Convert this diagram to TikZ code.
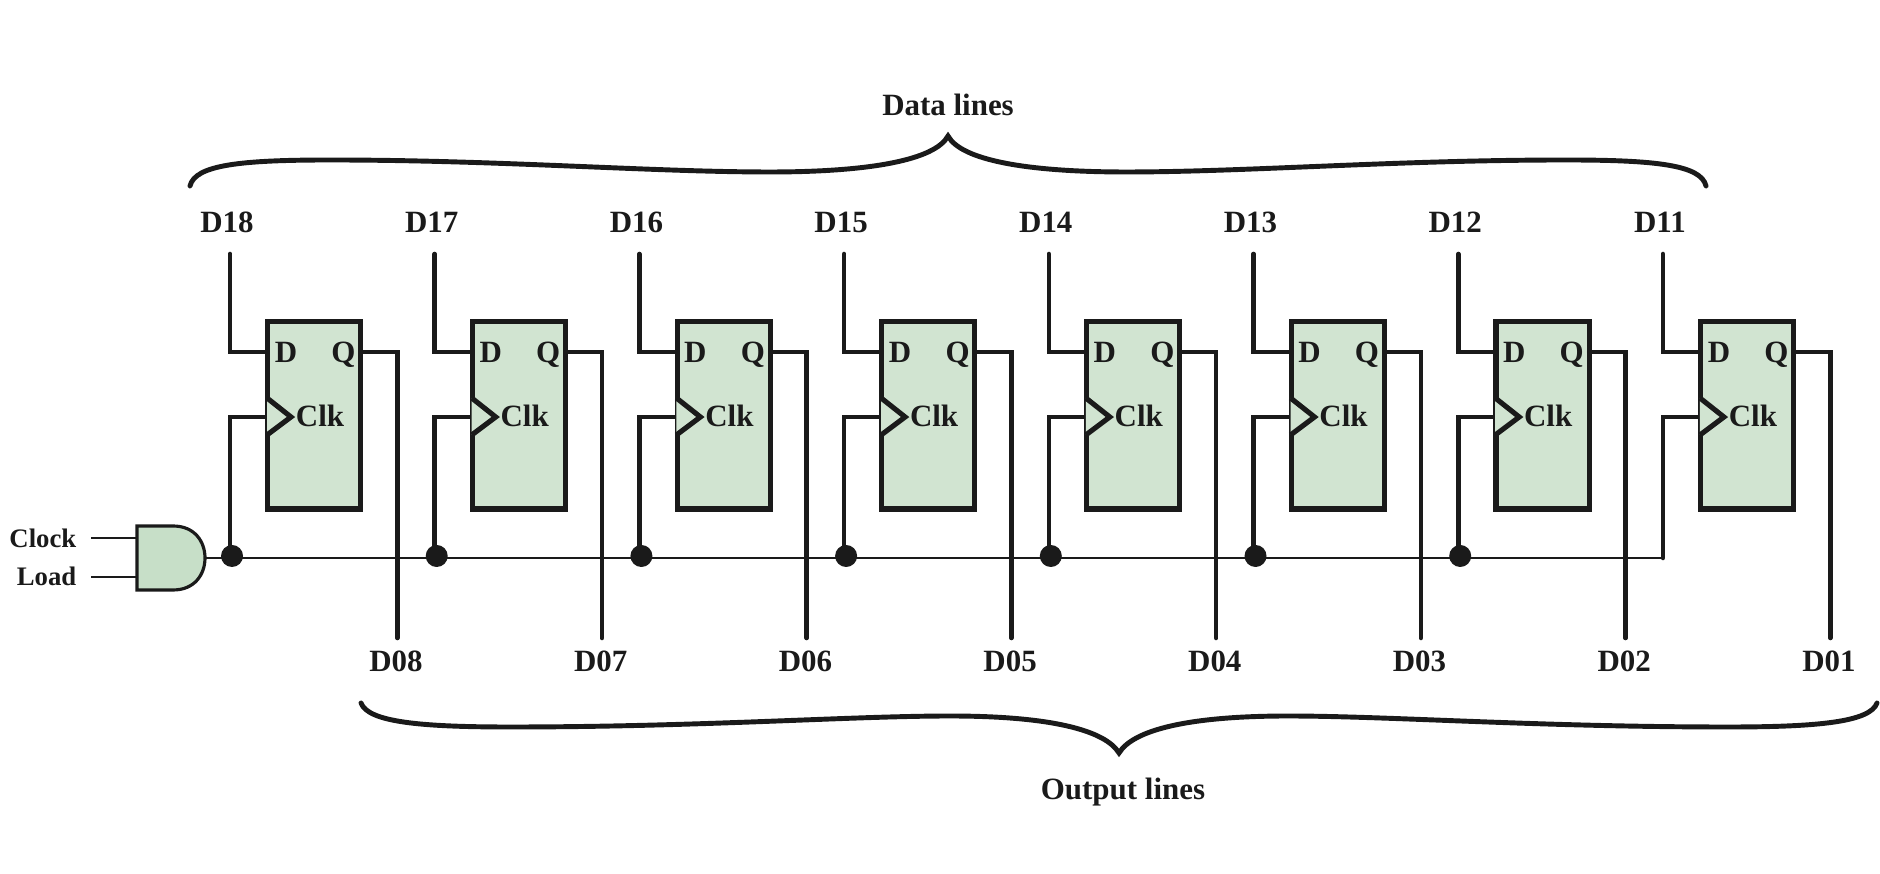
\documentclass[tikz,border=0pt]{standalone}
\usepackage{fontspec}
\setmainfont{Liberation Serif}
\definecolor{ink}{HTML}{1A1A1A}
\definecolor{ffgreen}{HTML}{D1E4D1}
\definecolor{gategreen}{HTML}{C7DFC8}
\tikzset{
  ffbox/.style={draw=ink,line width=1.45pt,fill=ffgreen,minimum width=0.93cm,minimum height=1.87cm,inner sep=0pt,outer sep=0pt},
  lbl/.style={anchor=base,inner sep=0pt,text=ink,font=\fontsize{8.8}{10}\selectfont\bfseries},
  smalllbl/.style={anchor=base east,inner sep=0pt,text=ink,font=\fontsize{7.6}{9}\selectfont\bfseries},
  wire/.style={draw=ink,line width=1.3pt,line cap=round},
  bus/.style={draw=ink,line width=0.75pt},
  brace/.style={draw=ink,line width=1.4pt,line cap=round},
  tapdot/.style={circle,fill=ink,minimum size=0.22cm,inner sep=0pt},
}
\begin{document}
\begin{tikzpicture}[x=0.01cm,y=-0.01cm]
\useasboundingbox (0,0) rectangle (1880,874);

% gate
\coordinate (clockin) at (91,538);
\coordinate (loadin) at (91,577);
\coordinate (clockpin) at (137,538);
\coordinate (loadpin) at (137,577);
\coordinate (gateout) at (205,558);
\draw[bus,line width=0.9pt,fill=gategreen] (137,526) -- (173,526) .. controls (195,526) and (205,542) .. (gateout) .. controls (205,574) and (195,590) .. (173,590) -- (137,590) -- cycle;
\draw[bus,line width=0.8pt] (clockin) -- (clockpin);
\draw[bus,line width=0.8pt] (loadin) -- (loadpin);
\node[smalllbl] (clocklbl) at (77,547.5) {Clock};
\node[smalllbl] (loadlbl) at (77,586) {Load};

% bus first, the stages go over it
\coordinate (busend) at (1662,558);
\draw[bus] (gateout) -- (busend);

\foreach \n [evaluate=\n as \x using 204.7*(8-\n)] in {1,...,8} {
  \node[ffbox] (ff\n) at (314.3+\x,415.5) {};
  \coordinate (din\n) at (230+\x,254);
  \coordinate (dpin\n) at (267+\x,352);
  \coordinate (qpin\n) at (361+\x,352);
  \coordinate (qend\n) at (397.3+\x,638);
  \coordinate (tap\n) at (230+\x,558);
  \coordinate (clkpin\n) at (267+\x,417);
  \draw[wire] (din\n) |- (dpin\n);
  \draw[wire] (qpin\n) -| (qend\n);
  \draw[wire] (tap\n) |- (clkpin\n);
  \draw[wire,line width=1.45pt,fill=ffgreen,line cap=butt] (267+\x,398) -- (291+\x,417) -- (267+\x,435);
  \node[lbl] (dlbl\n) at (286+\x,362.5) {D};
  \node[lbl] (qlbl\n) at (343.5+\x,362.5) {Q};
  \node[lbl] (clklbl\n) at (320+\x,426.5) {Clk};
  \node[lbl] (dtop\n) at (227+\x,232.5) {D1\n};
  \node[lbl] (dbot\n) at (396+\x,672) {D0\n};
}

% junctions, none on the last stage
\foreach \n in {2,...,8}
  \node[tapdot] (dot\n) at ([xshift=0.02cm,yshift=0.02cm]tap\n) {};

% braces
\draw[brace] (190,186) .. controls (195,165) and (240,160) .. (330,160) .. controls (500,160) and (650,172) .. (770,172) .. controls (870,172) and (935,160) .. (948,136)
  .. controls (961,160) and (1026,172) .. (1126,172) .. controls (1246,172) and (1396,160) .. (1566,160) .. controls (1656,160) and (1701,165) .. (1706,186);
\node[lbl] (datalbl) at (948,116) {Data lines};

\draw[brace] (361,703) .. controls (368,722) and (420,727) .. (510,727) .. controls (700,727) and (850,716) .. (950,716) .. controls (1050,716) and (1105,730) .. (1119,753)
  .. controls (1133,730) and (1188,716) .. (1288,716) .. controls (1388,716) and (1538,727) .. (1728,727) .. controls (1818,727) and (1870,722) .. (1877,703);
\node[lbl] (outlbl) at (1123,799) {Output lines};
\end{tikzpicture}
\end{document}
